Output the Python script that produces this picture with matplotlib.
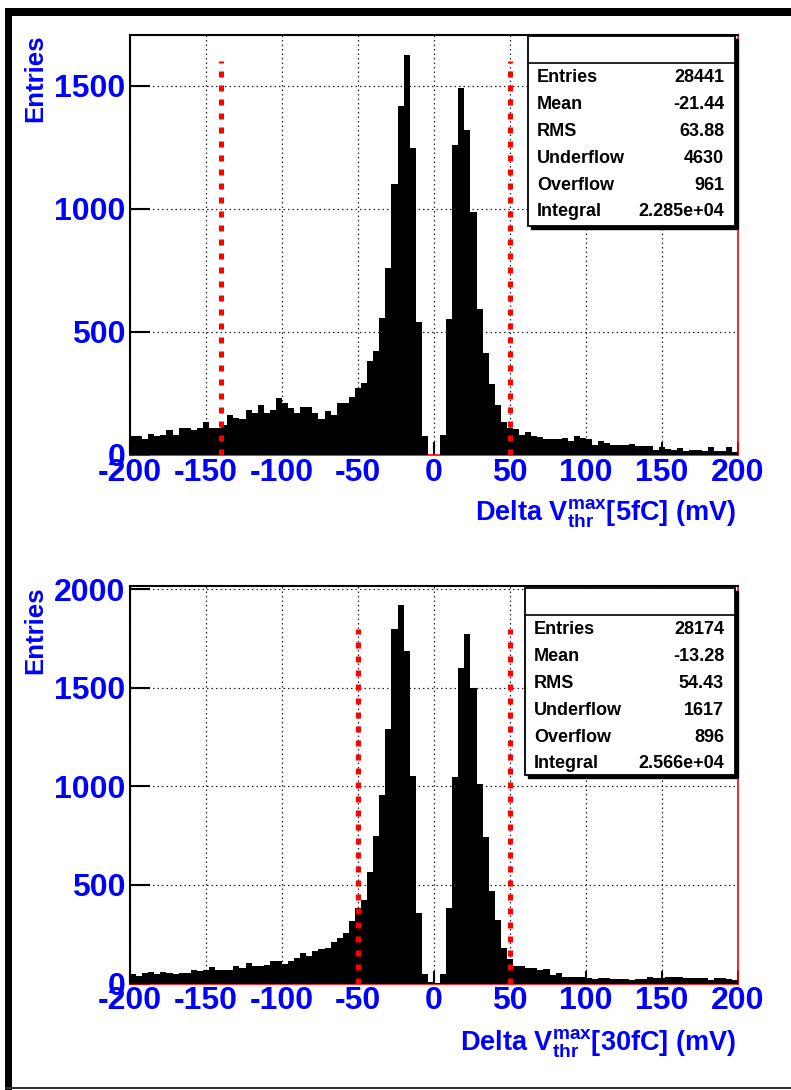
import matplotlib
matplotlib.use('Agg')
import matplotlib.pyplot as plt
import numpy as np
from matplotlib.patches import Rectangle
from matplotlib.lines import Line2D
from matplotlib import font_manager

# 100 bins of 4 mV between -200 and 200 mV
bin_edges = np.linspace(-200, 200, 101)

counts_5fc = [
    76, 76, 66, 86, 79, 82, 100, 82, 111, 111,
    100, 111, 134, 111, 111, 120, 161, 151, 145, 181,
    172, 205, 172, 181, 231, 211, 190, 172, 195, 195,
    172, 145, 178, 161, 211, 211, 235, 273, 292, 382,
    423, 558, 758, 1100, 1420, 1626, 1249, 541, 76, 0,
    0, 82, 554, 1260, 1490, 1320, 988, 595, 414, 290,
    204, 134, 111, 104, 83, 93, 77, 72, 66, 66,
    66, 69, 56, 77, 68, 63, 39, 55, 50, 39,
    39, 39, 43, 37, 37, 37, 21, 32, 25, 21,
    29, 15, 22, 22, 15, 32, 15, 15, 32, 14,
]

counts_30fc = [
    46, 40, 52, 60, 48, 60, 55, 48, 55, 55,
    68, 63, 68, 82, 68, 68, 68, 89, 80, 102,
    89, 89, 94, 116, 116, 99, 116, 131, 153, 139,
    166, 173, 181, 212, 229, 254, 316, 384, 423, 563,
    747, 958, 1292, 1798, 1920, 1684, 1051, 359, 46, 9,
    2, 48, 381, 1047, 1599, 1773, 1500, 1010, 743, 470,
    321, 178, 122, 89, 89, 80, 80, 68, 75, 41,
    55, 31, 31, 31, 31, 26, 21, 26, 26, 25,
    21, 21, 19, 25, 25, 31, 26, 26, 31, 31,
    31, 26, 27, 26, 26, 17, 28, 28, 24, 19,
]

cuts_5fc = [-140, 50]
cuts_30fc = [-50, 50]
cut_top_5fc = 1600
cut_top_30fc = 1800

yticks_5fc = [0, 500, 1000, 1500]
yticks_30fc = [0, 500, 1000, 1500, 2000]
xticks = [-200, -150, -100, -50, 0, 50, 100, 150, 200]

stat_names = ['Entries', 'Mean', 'RMS', 'Underflow', 'Overflow', 'Integral']
stats_5fc = ['28441', '-21.44', '63.88', '4630', '961', '2.285e+04']
stats_30fc = ['28174', '-13.28', '54.43', '1617', '896', '2.566e+04']

xlabel_5fc = r'Delta $\mathrm{V}^{\mathrm{max}}_{\mathrm{thr}}$[5fC] (mV)'
xlabel_30fc = r'Delta $\mathrm{V}^{\mathrm{max}}_{\mathrm{thr}}$[30fC] (mV)'

W, H = 791, 1090
names = font_manager.get_font_names()
narrow = 'Liberation Sans Narrow' if 'Liberation Sans Narrow' in names else None

plt.rcParams['font.family'] = 'Liberation Sans'
plt.rcParams['font.weight'] = 'bold'
plt.rcParams['axes.unicode_minus'] = False
plt.rcParams['mathtext.fontset'] = 'custom'
plt.rcParams['mathtext.rm'] = 'Liberation Sans:bold'
plt.rcParams['mathtext.it'] = 'Liberation Sans:bold'
plt.rcParams['mathtext.bf'] = 'Liberation Sans:bold'

fig = plt.figure(figsize=(W / 100, H / 100), dpi=100)
fig.patch.set_facecolor('white')


def fx(x):
    return x / W


def fy(y):
    return 1 - y / H


def draw_panel(box, counts, ymax, yticks, cuts, cut_top, stats, xlabel, stat_box, xlabel_y):
    left, top, right, bottom = box
    ax = fig.add_axes([fx(left), fy(bottom), fx(right - left), (bottom - top) / H])
    ax.set_axisbelow(True)
    ax.stairs(counts, bin_edges, fill=True, color='black', zorder=3)
    ax.vlines(cuts, 0, cut_top, colors='red', linewidth=3.6,
              linestyles=(0, (1.2, 1.6)), zorder=4)
    ax.set_xlim(-200, 200)
    ax.set_ylim(0, ymax)
    ax.set_xticks(xticks)
    ax.set_yticks(yticks)
    ax.grid(True, color='0.15', linestyle=(0, (1.2, 2.4)), linewidth=0.9)
    ax.tick_params(direction='in', color='black', width=1.5, labelcolor='blue',
                   labelsize=23)
    ax.tick_params(axis='x', length=9.4, pad=2)
    ax.tick_params(axis='y', length=14.4, pad=3.5)
    for side in ['top', 'left']:
        ax.spines[side].set_color('black')
        ax.spines[side].set_linewidth(1.5)
    for side in ['right', 'bottom']:
        ax.spines[side].set_color('red')
        ax.spines[side].set_linewidth(1.2)

    if narrow:
        ax.text((35 - left) / (right - left), 1.0, 'Entries', transform=ax.transAxes,
                rotation=90, ha='center', va='top', color='blue', fontsize=22,
                family=narrow, fontweight='bold')
    else:
        ax.text((35 - left) / (right - left), 1.0, 'Entries', transform=ax.transAxes,
                rotation=90, ha='center', va='top', color='blue', fontsize=18.5,
                fontweight='bold')
    fig.text(fx(736), fy(xlabel_y), xlabel, ha='right', va='baseline',
             color='blue', fontsize=19.5, fontweight='bold')

    # stats box
    bx0, by0, bx1, by1 = stat_box
    fig.add_artist(Rectangle((fx(bx0 + 3), fy(by1 + 3)), (bx1 - bx0) / W, (by1 - by0) / H,
                             transform=fig.transFigure, facecolor='black',
                             edgecolor='black', zorder=5))
    fig.add_artist(Rectangle((fx(bx0), fy(by1)), (bx1 - bx0) / W, (by1 - by0) / H,
                             transform=fig.transFigure, facecolor='white',
                             edgecolor='black', linewidth=1.3, zorder=6))
    fig.add_artist(Line2D([fx(bx0), fx(bx1)], [fy(by0 + 27), fy(by0 + 27)],
                          transform=fig.transFigure, color='black', linewidth=1.2,
                          zorder=7))
    for i, (name, val) in enumerate(zip(stat_names, stats)):
        yb = by0 + 40 + 26.8 * i + 6.5
        fig.text(fx(bx0 + 9), fy(yb), name, ha='left', va='baseline',
                 fontsize=13, fontweight='bold', color='black', zorder=8)
        fig.text(fx(bx1 - 11), fy(yb), val, ha='right', va='baseline',
                 fontsize=13, fontweight='bold', color='black', zorder=8)
    return ax


draw_panel((130, 35, 738, 455), counts_5fc, 1707, yticks_5fc, cuts_5fc, cut_top_5fc,
           stats_5fc, xlabel_5fc, (528, 36, 735, 226), 520)
draw_panel((130, 586, 738, 983.5), counts_30fc, 2016, yticks_30fc, cuts_30fc, cut_top_30fc,
           stats_30fc, xlabel_30fc, (525, 588, 735, 775), 1050)

# canvas border
fig.add_artist(Rectangle((fx(5), fy(1090)), 7 / W, 1082 / H, transform=fig.transFigure,
                         facecolor='black', edgecolor='none'))
fig.add_artist(Rectangle((fx(5), fy(16)), 786 / W, 8 / H, transform=fig.transFigure,
                         facecolor='black', edgecolor='none'))
fig.add_artist(Rectangle((fx(5), fy(1089)), 786 / W, 2 / H, transform=fig.transFigure,
                         facecolor='0.2', edgecolor='none'))

fig.savefig('out.png', dpi=100)
